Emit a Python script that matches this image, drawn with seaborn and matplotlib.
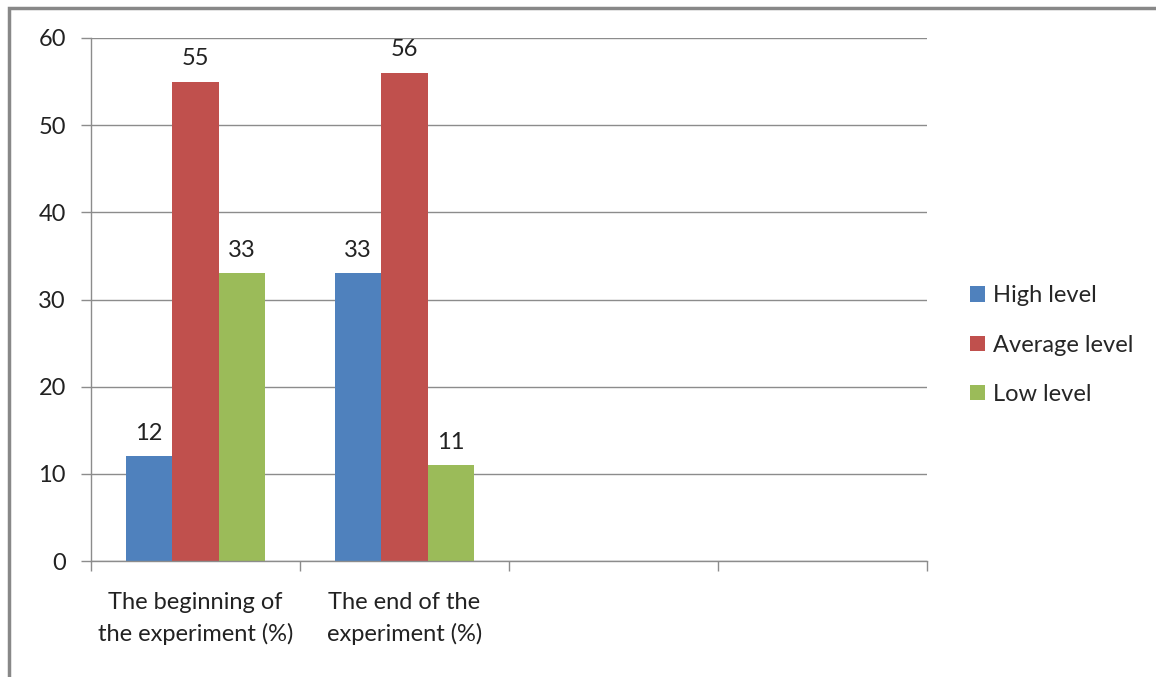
import pandas as pd
import matplotlib
matplotlib.use("Agg")
import matplotlib.pyplot as plt
from matplotlib.patches import Rectangle
import seaborn as sns

# chart data
categories = ["The beginning of\nthe experiment (%)", "The end of the\nexperiment (%)"]
empty_slots = ["", " "]
levels = ["High level", "Average level", "Low level"]
high = [12, 33]
average = [55, 56]
low = [33, 11]
colors = ["#4F81BD", "#C0504D", "#9BBB59"]
y_ticks = [0, 10, 20, 30, 40, 50, 60]

sns.set_style("white")
plt.rcParams["font.family"] = ["Lato", "DejaVu Sans"]

rows = []
for lvl, vals in zip(levels, [high, average, low]):
    for cat, v in zip(categories, vals):
        rows.append({"category": cat, "level": lvl, "value": v})
df = pd.DataFrame(rows)

fig = plt.figure(figsize=(11.56, 6.77), dpi=100)
ax = fig.add_axes([91 / 1156, 1 - 561 / 677, (927 - 91) / 1156, (561 - 38) / 677])

order = categories + empty_slots
sns.barplot(data=df, x="category", y="value", hue="level", order=order,
            hue_order=levels, palette=colors, width=0.665, saturation=1,
            errorbar=None, ax=ax, linewidth=0)

for cont in ax.containers:
    ax.bar_label(cont, padding=9, fontsize=17, color="#222222")

# axes look (Excel style)
ax.set_xlim(-0.5, 3.5)
ax.set_ylim(0, 60)
ax.set_yticks(y_ticks)
ax.set_xlabel("")
ax.set_ylabel("")
ax.yaxis.grid(True, color="#8c8c8c", linewidth=1)
ax.set_axisbelow(True)
for s in ["top", "right"]:
    ax.spines[s].set_visible(False)
for s in ["left", "bottom"]:
    ax.spines[s].set_color("#8c8c8c")
    ax.spines[s].set_linewidth(1)

ax.set_xticks(range(len(order)))
ax.set_xticklabels(order, fontsize=17, color="#222222", linespacing=1.55)
ax.set_xticks([-0.5, 0.5, 1.5, 2.5, 3.5], minor=True)
ax.tick_params(axis="x", which="major", length=0, pad=22)
ax.tick_params(axis="x", which="minor", length=7, color="#8c8c8c", width=1,
               direction="out", bottom=True)
ax.tick_params(axis="y", length=7, color="#8c8c8c", width=1, direction="out",
               left=True, labelsize=17, labelcolor="#222222", pad=11)

leg = ax.legend(loc="center left", bbox_to_anchor=(0.821, 0.49),
                bbox_transform=fig.transFigure, frameon=False, fontsize=17,
                handlelength=0.62, handleheight=0.62, handletextpad=0.35,
                labelspacing=1.2)

# outer chart border
fig.patches.append(Rectangle((9 / 1156, -0.1), 1.2, 1.1 - 8 / 677,
                             transform=fig.transFigure, fill=False,
                             edgecolor="#888888", linewidth=2.5))

fig.savefig("out.png", dpi=100)
